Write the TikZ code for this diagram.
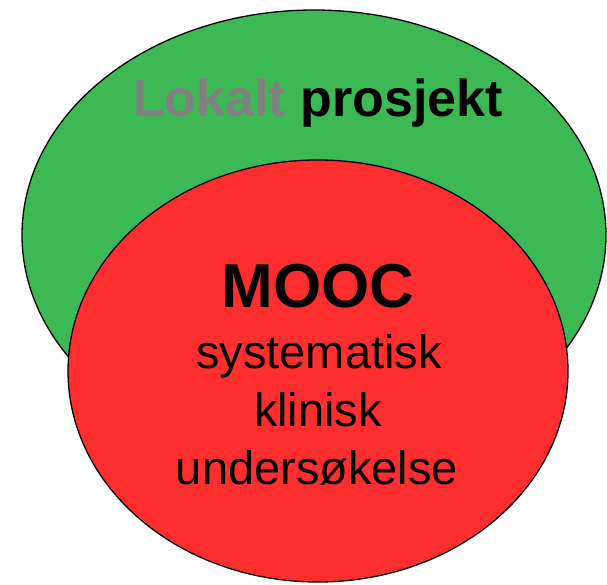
\documentclass[tikz,border=0pt]{standalone}
\usepackage{fontspec}
\setmainfont{Liberation Sans}
\usetikzlibrary{shapes.geometric}
\definecolor{grn}{HTML}{3CB954}
\definecolor{rd}{HTML}{FF2E2E}
\definecolor{gry}{HTML}{808080}
\begin{document}
\begin{tikzpicture}[x=1pt,y=-1pt,
  blob/.style={draw=black,line width=1.3pt,ellipse,inner sep=0pt},
  lbl/.style={anchor=base,inner sep=0pt,outer sep=0pt}]
\useasboundingbox (0,0) rectangle (607,584);
\node[blob,fill=grn,minimum width=584pt,minimum height=450pt] (outer) at (314,235) {};
\node[blob,fill=rd,minimum width=500pt,minimum height=422pt] (inner) at (318,371) {};
\node[lbl] (title) at (318,116) {\fontsize{52}{60}\selectfont\bfseries\textcolor{gry}{Lokalt} prosjekt};
\node[lbl] (mooc) at (318,307) {\fontsize{62}{70}\selectfont\bfseries MOOC};
\node[lbl] (l1) at (319,368) {\fontsize{47}{58}\selectfont systematisk};
\node[lbl] (l2) at (318,426) {\fontsize{47}{58}\selectfont klinisk};
\node[lbl] (l3) at (317,484) {\fontsize{47}{58}\selectfont undersøkelse};
\end{tikzpicture}
\end{document}
